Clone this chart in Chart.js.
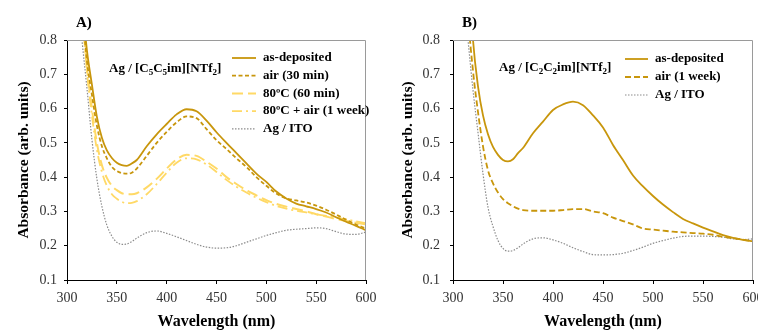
<!DOCTYPE html>
<html>
<head>
<meta charset="utf-8">
<script src="https://cdn.jsdelivr.net/npm/chart.js@4"></script>
<style>
  body { margin: 0; background: #fff; }
  #wrap { position: relative; width: 758px; height: 331px; overflow: hidden; }
  canvas { position: absolute; top: 0; }
  #chartA { left: 0; }
  #chartB { left: 380px; }
</style>
</head>
<body>
<div id="wrap">
  <canvas id="chartA" width="380" height="331"></canvas>
  <canvas id="chartB" width="378" height="331"></canvas>
</div>
<script>
// Start Data
const wavelengths = [310, 315, 320, 325, 330, 335, 340, 345, 350, 355, 360, 365, 370, 380, 390, 400, 410, 420, 430, 440,
                     450, 460, 470, 480, 490, 500, 510, 520, 530, 540, 550, 560, 570, 580, 590, 600];
const xTicks = [300, 350, 400, 450, 500, 550, 600];
const yTicks = [0.1, 0.2, 0.3, 0.4, 0.5, 0.6, 0.7, 0.8];

// panel A : Ag / [C5C5im][NTf2]
const labelsA = ['as-deposited', 'air (30 min)', '80ºC (60 min)', '80ºC + air (1 week)', 'Ag / ITO'];
const asDepA = [1.10, 0.92, 0.77, 0.67, 0.576, 0.515, 0.478, 0.456, 0.442, 0.435, 0.433, 0.440, 0.450, 0.490, 0.525, 0.555, 0.583, 0.598, 0.592, 0.565,
                0.531, 0.500, 0.470, 0.440, 0.410, 0.386, 0.358, 0.338, 0.323, 0.315, 0.307, 0.297, 0.283, 0.270, 0.258, 0.245];
const air30A = [1.08, 0.90, 0.74, 0.64, 0.550, 0.490, 0.455, 0.430, 0.418, 0.412, 0.410, 0.413, 0.425, 0.462, 0.500, 0.532, 0.560, 0.577, 0.572, 0.540,
                0.508, 0.482, 0.455, 0.430, 0.400, 0.375, 0.352, 0.338, 0.332, 0.326, 0.317, 0.305, 0.291, 0.276, 0.262, 0.250];
const heat60A = [1.10, 0.90, 0.72, 0.60, 0.500, 0.435, 0.398, 0.375, 0.362, 0.353, 0.350, 0.350, 0.353, 0.370, 0.395, 0.425, 0.452, 0.465, 0.462, 0.445,
                 0.425, 0.400, 0.380, 0.362, 0.347, 0.333, 0.322, 0.314, 0.307, 0.300, 0.292, 0.285, 0.278, 0.272, 0.267, 0.262];
const heatAirA = [1.10, 0.90, 0.71, 0.58, 0.480, 0.415, 0.375, 0.350, 0.337, 0.328, 0.324, 0.325, 0.330, 0.350, 0.380, 0.413, 0.442, 0.455, 0.452, 0.437,
                  0.415, 0.392, 0.372, 0.355, 0.340, 0.327, 0.316, 0.308, 0.302, 0.297, 0.292, 0.287, 0.282, 0.277, 0.271, 0.266];
const itoA = [0.95, 0.80, 0.66, 0.510, 0.395, 0.315, 0.260, 0.228, 0.210, 0.204, 0.205, 0.212, 0.222, 0.238, 0.243, 0.236, 0.226, 0.215, 0.204, 0.196,
              0.193, 0.194, 0.200, 0.210, 0.220, 0.230, 0.238, 0.245, 0.248, 0.250, 0.252, 0.250, 0.241, 0.234, 0.233, 0.240];

// panel B : Ag / [C2C2im][NTf2]
const labelsB = ['as-deposited', 'air (1 week)', 'Ag / ITO'];
const asDepB = [1.30, 1.05, 0.80, 0.665, 0.580, 0.525, 0.488, 0.465, 0.450, 0.446, 0.452, 0.470, 0.485, 0.528, 0.562, 0.596, 0.612, 0.620, 0.610, 0.580,
                0.545, 0.494, 0.450, 0.405, 0.373, 0.345, 0.320, 0.298, 0.278, 0.265, 0.253, 0.242, 0.231, 0.223, 0.217, 0.213];
const air1wB = [1.20, 0.88, 0.71, 0.590, 0.490, 0.420, 0.382, 0.355, 0.336, 0.324, 0.315, 0.308, 0.304, 0.302, 0.302, 0.302, 0.304, 0.307, 0.307, 0.300,
                0.295, 0.282, 0.272, 0.262, 0.250, 0.247, 0.244, 0.241, 0.239, 0.237, 0.235, 0.232, 0.226, 0.222, 0.218, 0.213];
const itoB = [0.95, 0.80, 0.654, 0.530, 0.410, 0.312, 0.256, 0.215, 0.192, 0.184, 0.186, 0.194, 0.205, 0.220, 0.223, 0.217, 0.207, 0.194, 0.183, 0.174,
              0.173, 0.174, 0.178, 0.186, 0.196, 0.207, 0.215, 0.222, 0.227, 0.228, 0.228, 0.227, 0.225, 0.220, 0.218, 0.220];
// End Data

const gold = '#C8960C';
const lightGold = '#FFD966';
const grey = '#8C8C8C';
const serif = '"Liberation Serif", "DejaVu Serif", serif';

function pts(ys) {
  return wavelengths.map((w, i) => ({ x: w, y: ys[i] }));
}

function ds(label, ys, color, width, dash) {
  return {
    label: label,
    data: pts(ys),
    borderColor: color,
    borderWidth: width,
    borderDash: dash,
    pointRadius: 0,
    fill: false,
    cubicInterpolationMode: 'monotone'
  };
}

// Start Draw plugin (box, legend, labels)
const decorPlugin = {
  id: 'decor',
  afterDraw(chart, args, opts) {
    const ctx = chart.ctx;
    const a = chart.chartArea;
    ctx.save();
    // top + right border
    ctx.strokeStyle = '#9a9a9a';
    ctx.lineWidth = 1;
    ctx.beginPath();
    ctx.moveTo(a.left, a.top + 0.5);
    ctx.lineTo(a.right - 0.5, a.top + 0.5);
    ctx.lineTo(a.right - 0.5, a.bottom);
    ctx.stroke();

    // panel letter
    ctx.fillStyle = '#000';
    ctx.font = 'bold 15px ' + serif;
    ctx.textBaseline = 'middle';
    ctx.fillText(opts.letter, opts.letterX, 23);

    // sample label with subscripts
    let x = opts.tagX;
    opts.tag.forEach(part => {
      if (part.sub) {
        ctx.font = 'bold 9px ' + serif;
        ctx.fillText(part.t, x, opts.tagY + 4);
      } else {
        ctx.font = 'bold 13px ' + serif;
        ctx.fillText(part.t, x, opts.tagY);
      }
      x += ctx.measureText(part.t).width;
    });

    // legend
    chart.data.datasets.forEach((d, i) => {
      const y = opts.legY + i * opts.legStep;
      ctx.strokeStyle = d.borderColor;
      ctx.lineWidth = d.borderWidth;
      ctx.setLineDash(d.borderDash || []);
      ctx.beginPath();
      ctx.moveTo(opts.legX0, y);
      ctx.lineTo(opts.legX1, y);
      ctx.stroke();
      ctx.setLineDash([]);
      ctx.font = 'bold 13px ' + serif;
      ctx.fillStyle = '#000';
      ctx.fillText(d.label, opts.legX1 + 7, y);
    });
    ctx.restore();
  }
};

function makePanel(id, datasets, p) {
  new Chart(document.getElementById(id), {
    type: 'line',
    data: { datasets: datasets },
    plugins: [decorPlugin],
    options: {
      responsive: false,
      animation: false,
      layout: { padding: { left: 0, right: p.padRight, top: 40, bottom: 0 } },
      plugins: {
        legend: { display: false },
        tooltip: { enabled: false },
        decor: p.decor
      },
      scales: {
        x: {
          type: 'linear',
          min: 300, max: 600,
          afterBuildTicks: s => { s.ticks = xTicks.map(v => ({ value: v })); },
          afterFit: s => { s.height = 51; s.paddingLeft = 0; s.paddingRight = 0; },
          grid: { display: true, drawOnChartArea: false, tickLength: 4, color: '#000' },
          border: { display: true, color: '#000', width: 1 },
          ticks: { padding: 6, color: '#333', font: { family: serif, size: 14 } },
          title: {
            display: true, text: 'Wavelength (nm)', color: '#000',
            font: { family: serif, size: 16, weight: 'bold' }, padding: { top: 0, bottom: 0 }
          }
        },
        y: {
          min: 0.1, max: 0.8,
          afterBuildTicks: s => { s.ticks = yTicks.map(v => ({ value: v })); },
          afterFit: s => { s.width = p.yWidth; s.paddingTop = 0; s.paddingBottom = 0; },
          grid: { display: true, drawOnChartArea: false, tickLength: 3, color: '#000' },
          border: { display: true, color: '#000', width: 1 },
          ticks: { padding: p.yTickPad, color: '#333', font: { family: serif, size: 14 },
                   callback: v => v.toFixed(1) },
          title: {
            display: true, text: 'Absorbance (arb. units)', color: '#000',
            font: { family: serif, size: 15.5, weight: 'bold' }, padding: { top: p.yTitlePad, bottom: 0 }
          }
        }
      }
    }
  });
}

makePanel('chartA', [
  ds(labelsA[0], asDepA, gold, 1.8, []),
  ds(labelsA[1], air30A, gold, 1.8, [4, 2.5]),
  ds(labelsA[2], heat60A, lightGold, 2, [11, 5]),
  ds(labelsA[3], heatAirA, lightGold, 1.8, [10, 4, 2, 4]),
  ds(labelsA[4], itoA, grey, 1.2, [1.5, 1.5])
], {
  padRight: 14, yWidth: 67, yTickPad: 7, yTitlePad: 15,
  decor: {
    letter: 'A)', letterX: 76,
    tag: [{ t: 'Ag / [C' }, { t: '5', sub: true }, { t: 'C' }, { t: '5', sub: true }, { t: 'im][NTf' }, { t: '2', sub: true }, { t: ']' }],
    tagX: 109, tagY: 69,
    legX0: 232, legX1: 256, legY: 58, legStep: 17.7
  }
});

makePanel('chartB', [
  ds(labelsB[0], asDepB, gold, 1.8, []),
  ds(labelsB[1], air1wB, gold, 1.8, [6, 3]),
  ds(labelsB[2], itoB, grey, 1.2, [1.5, 1.5])
], {
  padRight: 5, yWidth: 73, yTickPad: 10, yTitlePad: 19,
  decor: {
    letter: 'B)', letterX: 82,
    tag: [{ t: 'Ag / [C' }, { t: '2', sub: true }, { t: 'C' }, { t: '2', sub: true }, { t: 'im][NTf' }, { t: '2', sub: true }, { t: ']' }],
    tagX: 119, tagY: 68,
    legX0: 245, legX1: 268, legY: 59, legStep: 18
  }
});
</script>
</body>
</html>
